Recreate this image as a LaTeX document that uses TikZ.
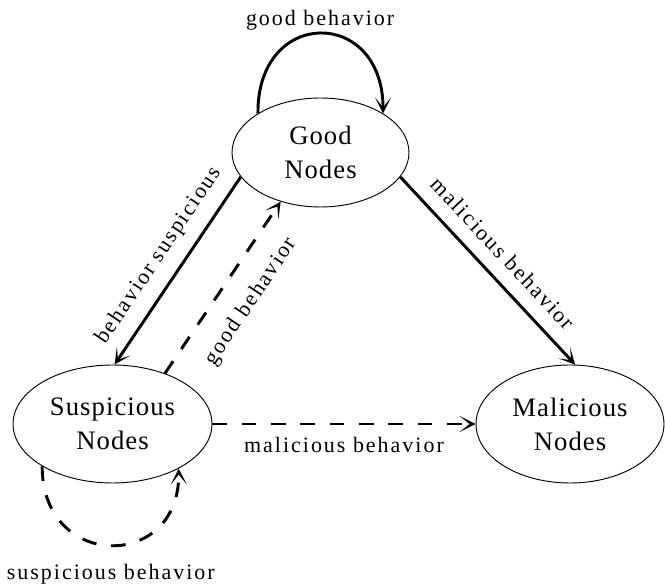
\documentclass[tikz,border=0pt]{standalone}
\usepackage{fontspec}
\setmainfont{Liberation Serif}
\newfontfamily\statefont[LetterSpace=4]{Liberation Serif}
\newfontfamily\edgefont[LetterSpace=9]{Liberation Serif}
\usetikzlibrary{shapes.geometric,arrows.meta}
\begin{document}
\begin{tikzpicture}[x=0.75pt,y=-0.75pt,
  state/.style={ellipse, draw, line width=0.7pt, inner sep=0pt, align=center,
    font=\statefont\fontsize{20}{25.5}\selectfont},
  trans/.style={line width=2.2pt, -{Stealth[length=12pt,width=12pt,inset=7.5pt]}},
  dashtrans/.style={trans, dash pattern=on 11pt off 11pt},
  lbl/.style={font=\edgefont\fontsize{16.5}{20}\selectfont, inner sep=0pt}
]
\useasboundingbox (0,0) rectangle (665,584);

% the three node classes
\node[state, minimum width=132.75pt, minimum height=81.75pt] (good) at (320.5,152.5) {Good\\Nodes};
\node[state, minimum width=149.25pt, minimum height=88.5pt] (sus) at (112.5,424) {Suspicious\\Nodes};
\node[state, minimum width=141pt, minimum height=88.5pt] (mal) at (570,424) {Malicious\\Nodes};

% self loops
\draw[trans] (good.148) .. controls (257,7) and (383,7) .. (good.32)
  node[lbl, pos=0.5, anchor=base, yshift=6pt] {good behavior};
\draw[dashtrans] (sus.211) .. controls (42,571) and (180,571) .. (sus.326)
  node[lbl, pos=0.5, anchor=base, yshift=-25.5pt] {suspicious behavior};

% transitions between classes
\draw[trans] (good.197) -- (sus.88)
  node[lbl, pos=0.49, sloped, above=9.2pt] {behavior suspicious};
\draw[dashtrans] (sus.44) -- (good.231)
  node[lbl, pos=0.52, sloped, below=15pt] {good behavior};
\draw[trans] (good.343) -- (mal.85)
  node[lbl, pos=0.49, sloped, above=10.4pt] {malicious behavior};
\draw[dashtrans] (sus.east) -- (mal.west)
  node[lbl, pos=0.5, anchor=base, yshift=-21.75pt] {malicious behavior};
\end{tikzpicture}
\end{document}
